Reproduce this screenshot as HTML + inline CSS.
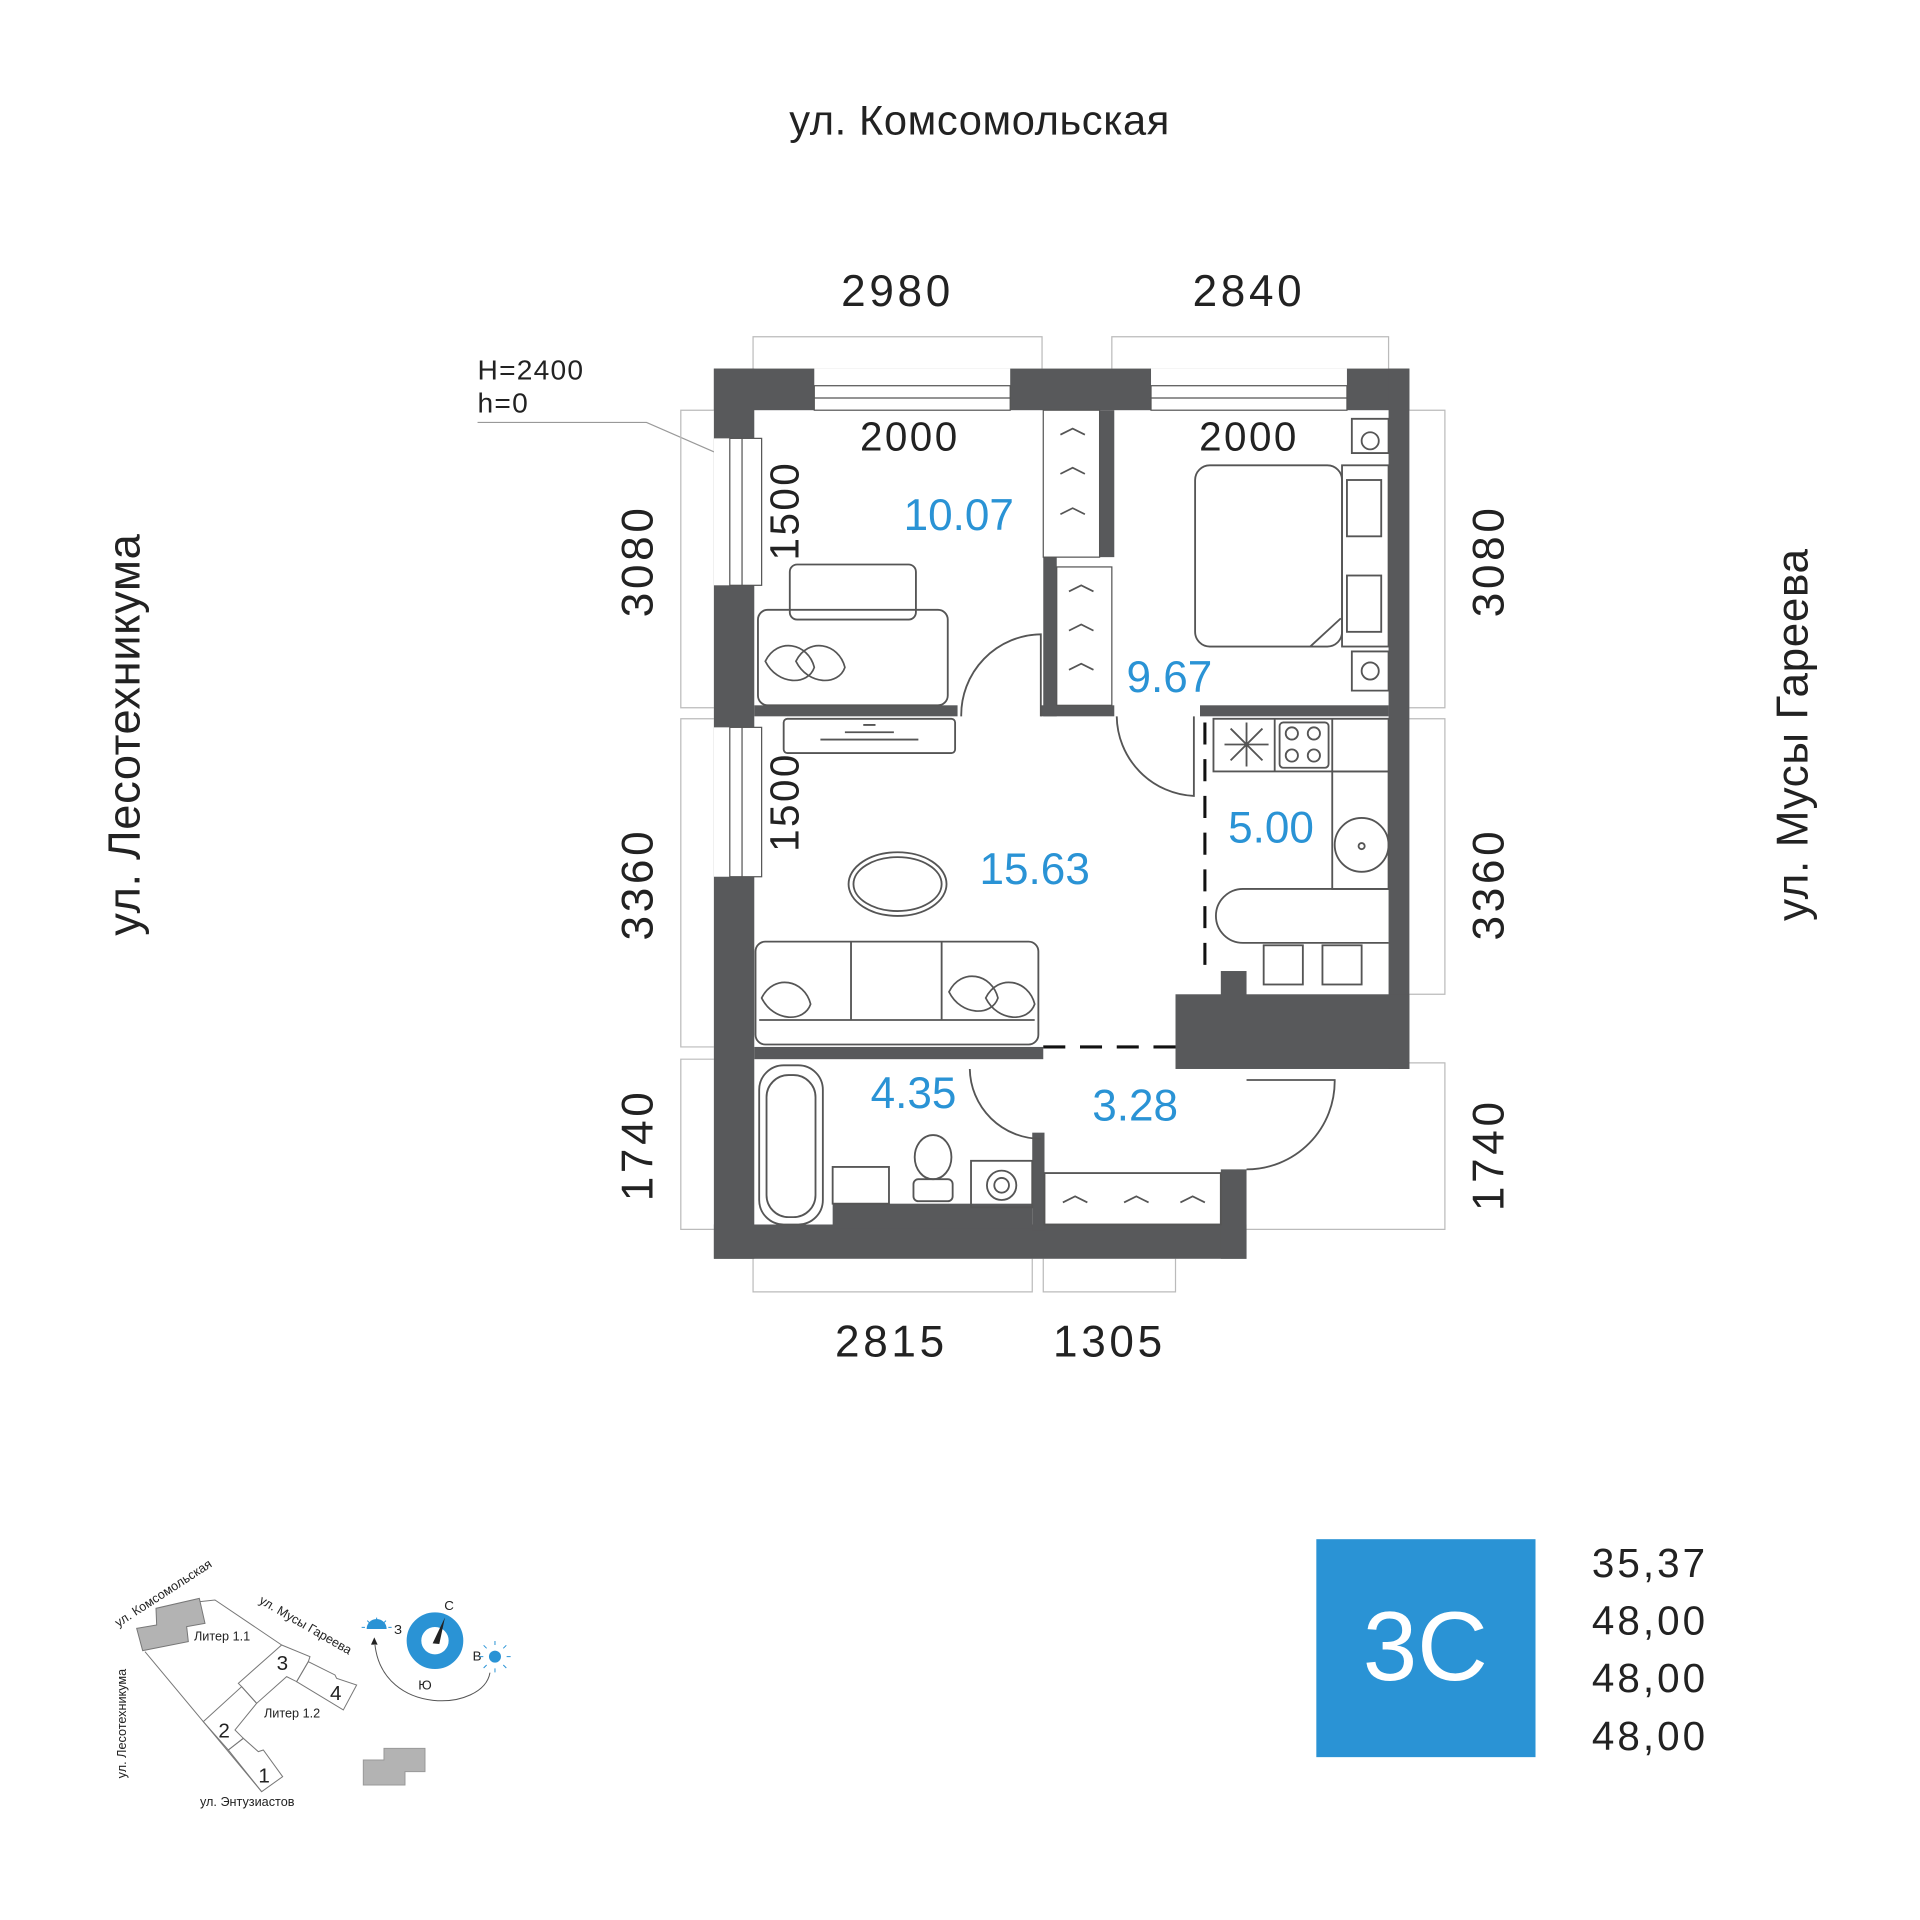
<!DOCTYPE html>
<html><head><meta charset="utf-8"><style>
html,body{margin:0;padding:0;background:#fff;width:1920px;height:1920px;overflow:hidden}
svg{display:block}
text{font-family:"Liberation Sans",sans-serif}
</style></head><body>
<svg width="1920" height="1920" viewBox="0 0 1568 1568" xmlns="http://www.w3.org/2000/svg">
<g font-size="32" fill="#222">
<text x="800" y="110" text-anchor="middle" font-size="34" letter-spacing="0.5">ул. Комсомольская</text>
<text transform="translate(114,600) rotate(-90)" text-anchor="middle" font-size="37" letter-spacing="0.5">ул. Лесотехникума</text>
<text transform="translate(1476,600) rotate(-90)" text-anchor="middle" font-size="36" letter-spacing="0.5">ул. Мусы Гареева</text>
<g font-size="36" letter-spacing="3">
<text x="733" y="250" text-anchor="middle">2980</text>
<text x="1020" y="250" text-anchor="middle">2840</text>
<text x="728" y="1108" text-anchor="middle">2815</text>
<text x="906" y="1108" text-anchor="middle">1305</text>
<text transform="translate(533,458) rotate(-90)" text-anchor="middle">3080</text>
<text transform="translate(533,722) rotate(-90)" text-anchor="middle">3360</text>
<text transform="translate(533,935) rotate(-90)" text-anchor="middle">1740</text>
<text transform="translate(1228,458) rotate(-90)" text-anchor="middle">3080</text>
<text transform="translate(1228,722) rotate(-90)" text-anchor="middle">3360</text>
<text transform="translate(1228,943) rotate(-90)" text-anchor="middle">1740</text>
</g>
<g font-size="33" letter-spacing="2">
<text x="743" y="368" text-anchor="middle">2000</text>
<text x="1020" y="368" text-anchor="middle">2000</text>
<text transform="translate(652,417) rotate(-90)" text-anchor="middle">1500</text>
<text transform="translate(652,655) rotate(-90)" text-anchor="middle">1500</text>
</g>
<text x="390" y="310" font-size="23" letter-spacing="1">H=2400</text>
<text x="390" y="337" font-size="23" letter-spacing="1">h=0</text>
</g>
<polyline points="390,345 528,345 590,372" fill="none" stroke="#999" stroke-width="1"/>
<g fill="none" stroke="#bbb" stroke-width="1">
<path d="M615,301V275H851V301M908,301V275H1134V301"/>
<path d="M583,335H556V578H583M583,587H556V855H583M583,865H556V1004H583"/>
<path d="M1151,335H1180V578H1151M1151,587H1180V812H1151M1018,868H1180V1004H1018"/>
<path d="M615,1028V1055H843V1028M852,1028V1055H960V1028"/>
</g>
<g fill="#58595b">
<rect x="583" y="301" width="568" height="34"/>
<rect x="583" y="301" width="33" height="727"/>
<rect x="1134" y="301" width="17" height="572"/>
<rect x="583" y="1000" width="435" height="28"/>
<rect x="997" y="955" width="21" height="73"/>
<rect x="960" y="812" width="191" height="61"/>
<rect x="997" y="793" width="21" height="20"/>
<rect x="616" y="576" width="166" height="9"/>
<rect x="850" y="576" width="60" height="9"/>
<rect x="980" y="576" width="154" height="9"/>
<rect x="852" y="455" width="11" height="130"/>
<rect x="898" y="335" width="12" height="120"/>
<rect x="616" y="855" width="236" height="10"/>
<rect x="843" y="925" width="10" height="80"/>
<rect x="680" y="983" width="163" height="20"/>
</g>
<g fill="#fff" stroke="#555" stroke-width="1">
<rect x="665" y="301" width="160" height="34" stroke="none"/>
<rect x="940" y="301" width="160" height="34" stroke="none"/>
<rect x="665" y="315" width="160" height="20"/><line x1="665" y1="325" x2="825" y2="325"/>
<rect x="940" y="315" width="160" height="20"/><line x1="940" y1="325" x2="1100" y2="325"/>
<rect x="583" y="358" width="40" height="120" stroke="none"/>
<rect x="583" y="594" width="40" height="122" stroke="none"/>
<rect x="596" y="358" width="26" height="120"/><line x1="606" y1="358" x2="606" y2="478"/>
<rect x="596" y="594" width="26" height="122"/><line x1="606" y1="594" x2="606" y2="716"/>
<rect x="852" y="335" width="46" height="120" stroke="#555"/>
<rect x="863" y="463" width="45" height="113"/>
</g>
<g fill="none" stroke="#555" stroke-width="1.5">
<rect x="645" y="461" width="103" height="45" rx="6"/>
<rect x="619" y="498" width="155" height="78" rx="8"/>
<ellipse cx="733" cy="722" rx="40" ry="26"/><ellipse cx="733" cy="722" rx="36" ry="22"/>
<rect x="617" y="769" width="231" height="84" rx="8"/>
<line x1="695" y1="769" x2="695" y2="833"/><line x1="769" y1="769" x2="769" y2="833"/>
<line x1="620" y1="833" x2="845" y2="833"/>
<rect x="640" y="587" width="140" height="28" rx="3"/><path d="M670,604H750M690,598H730M705,592H715"/>
<path d="M785,585A66,66 0 0 1 850,518V585"/>
<path d="M912,585A66,66 0 0 0 975,650V585"/>
<rect x="976" y="380" width="120" height="148" rx="12"/>
<rect x="1096" y="380" width="38" height="148"/>
<rect x="1100" y="392" width="28" height="46"/><rect x="1100" y="470" width="28" height="46"/>
<path d="M1104,342h30v28h-30z M1104,532h30v32h-30z"/>
<circle cx="1119" cy="360" r="7"/><circle cx="1119" cy="548" r="7"/>
<path d="M1070,528L1095,505"/>
<rect x="991" y="587" width="143" height="43"/><line x1="1041" y1="587" x2="1041" y2="630"/><line x1="1088" y1="587" x2="1088" y2="630"/>
<rect x="1045" y="590" width="40" height="37" rx="3"/>
<circle cx="1055" cy="599" r="5"/><circle cx="1073" cy="599" r="5"/><circle cx="1055" cy="617" r="5"/><circle cx="1073" cy="617" r="5"/>
<path d="M1000,608H1036M1018,590V626M1005,595L1031,621M1031,595L1005,621"/>
<rect x="1088" y="630" width="46" height="96"/><circle cx="1112" cy="690" r="22"/><circle cx="1112" cy="691" r="2.5"/>
<path d="M1134,726H1015A22,22 0 0 0 1015,770H1134"/>
<rect x="1032" y="772" width="32" height="32"/><rect x="1080" y="772" width="32" height="32"/>
<rect x="620" y="870" width="52" height="130" rx="20"/><rect x="626" y="878" width="40" height="116" rx="18"/>
<rect x="680" y="953" width="46" height="30"/>
<ellipse cx="762" cy="945" rx="15" ry="18"/><rect x="746" y="963" width="32" height="18" rx="4"/>
<rect x="793" y="948" width="50" height="38"/><circle cx="818" cy="968" r="12"/><circle cx="818" cy="968" r="6"/>
<path d="M792,873A58,58 0 0 0 850,930"/>
<path d="M1018,955A72,72 0 0 0 1090,882H1018"/>
<rect x="853" y="958" width="144" height="42"/>
</g>
<g stroke="#111" stroke-width="2.5" fill="none" stroke-dasharray="18,12">
<line x1="984" y1="590" x2="984" y2="800"/>
<line x1="852" y1="855" x2="960" y2="855"/>
</g>
<g fill="none" stroke="#555" stroke-width="1.4">
<path d="M866,355l10,-5l10,5M866,387l10,-5l10,5M866,420l10,-5l10,5M873,483l10,-5l10,5M873,515l10,-5l10,5M873,547l10,-5l10,5M868,982l10,-5l10,5M918,982l10,-5l10,5M964,982l10,-5l10,5"/>
<path d="M625,540c10,-20 35,-15 40,5c-5,15 -30,15 -40,-5zM650,540c10,-20 35,-15 40,5c-5,15 -30,15 -40,-5zM622,815c10,-20 35,-15 40,5c-5,15 -30,15 -40,-5zM775,810c10,-20 35,-15 40,5c-5,15 -30,15 -40,-5zM805,815c10,-20 35,-15 40,5c-5,15 -30,15 -40,-5z"/>
</g>
<g fill="#2a93d5" font-size="36">
<text x="783" y="433" text-anchor="middle">10.07</text>
<text x="955" y="565" text-anchor="middle">9.67</text>
<text x="1038" y="688" text-anchor="middle">5.00</text>
<text x="845" y="722" text-anchor="middle">15.63</text>
<text x="746" y="905" text-anchor="middle">4.35</text>
<text x="927" y="915" text-anchor="middle">3.28</text>
</g>
<rect x="1075" y="1257" width="179" height="178" fill="#2a93d5"/>
<text x="1164" y="1372" text-anchor="middle" fill="#fff" font-size="80">3С</text>
<g font-size="33" fill="#222" letter-spacing="2.5">
<text x="1300" y="1288">35,37</text><text x="1300" y="1335">48,00</text>
<text x="1300" y="1382">48,00</text><text x="1300" y="1429">48,00</text>
</g>
<!-- mini map in zoom coords -->
<g transform="translate(73.5,1249.5) scale(0.2722)">
<g fill="none" stroke="#777" stroke-width="3">
<polyline points="330,215 375,210 575,345"/>
<line x1="165" y1="365" x2="515" y2="785"/>
<polygon points="340,575 455,470 500,520 435,600 460,625 415,660"/>
<polygon points="415,660 460,625 505,665 520,660 578,740 515,785"/>
<polygon points="445,460 575,345 660,380 655,395 620,455 590,440 500,520 455,470"/>
<polygon points="620,455 655,395 735,435 740,445 800,465 760,540"/>
</g>
<polygon points="140,295 200,285 198,235 328,205 345,280 290,290 295,335 158,362" fill="#b3b3b3" stroke="#777" stroke-width="3"/>
<polygon points="820,690 882,690 882,655 1005,655 1005,725 945,725 945,765 820,765" fill="#b3b3b3" stroke="#999" stroke-width="3"/>
<g fill="#222" font-size="38">
<text transform="translate(85,292) rotate(-33)">ул. Комсомольская</text>
<text transform="translate(505,218) rotate(30)">ул. Мусы Гареева</text>
<text transform="translate(108,745) rotate(-90)">ул. Лесотехникума</text>
<text x="330" y="828">ул. Энтузиастов</text>
<text x="312" y="332">Литер 1.1</text>
<text x="522" y="562">Литер 1.2</text>
<text x="560" y="420" font-size="62">3</text>
<text x="720" y="510" font-size="62">4</text>
<text x="385" y="622" font-size="62">2</text>
<text x="505" y="757" font-size="62">1</text>
<text x="1063" y="240" font-size="40">С</text>
<text x="912" y="312" font-size="40">З</text>
<text x="1148" y="392" font-size="40">В</text>
<text x="985" y="478" font-size="40">Ю</text>
</g>
<circle cx="1035" cy="332" r="63" fill="none" stroke="#2a93d5" stroke-width="44"/>
<path d="M1028,340L1065,262L1048,342z" fill="#222"/>
<path d="M1200,428C1180,545 880,560 855,345" fill="none" stroke="#555" stroke-width="3"/>
<path d="M853,322l-10,22h20z" fill="#222"/>
<path d="M830,297h60a30,30 0 0 0 -60,0z" fill="#2a93d5"/>
<circle cx="1215" cy="380" r="18" fill="#2a93d5"/>
<g stroke="#2a93d5" stroke-width="3">
<path d="M1215,345v-12M1215,415v12M1180,380h-12M1250,380h12M1190,355l-9,-9M1240,405l9,9M1240,355l9,-9M1190,405l-9,9"/>
<path d="M860,275v-12M840,280l-8,-8M880,280l8,-8M825,292h-10M895,292h10"/>
</g>
</g>
</svg>
</body></html>
